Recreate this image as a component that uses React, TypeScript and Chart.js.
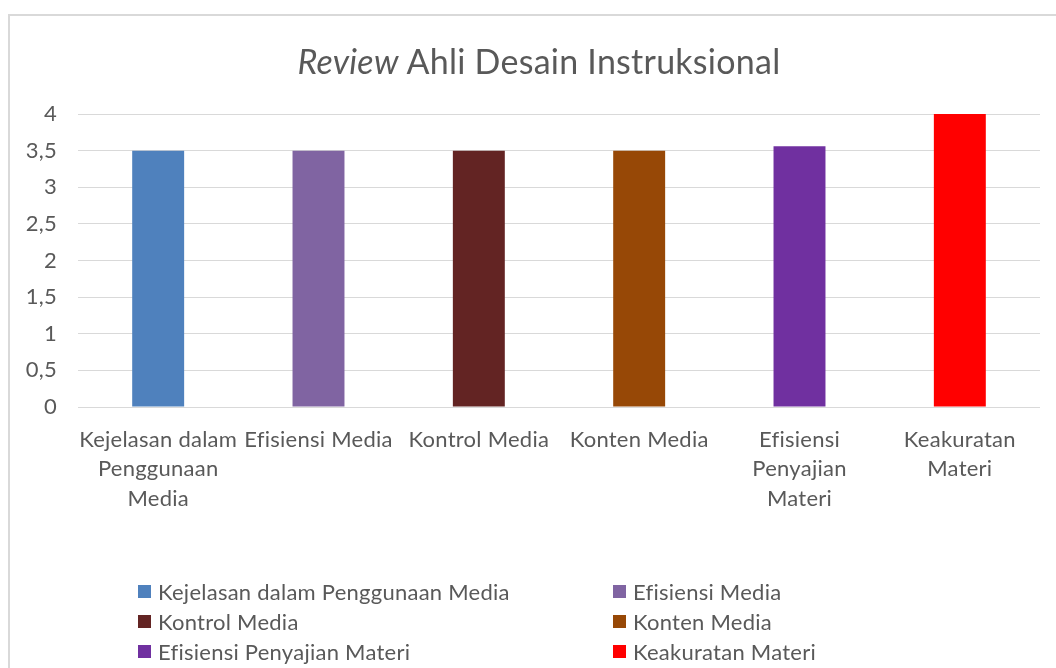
import React, { useEffect, useRef } from "react";
import { Chart, registerables } from "chart.js";

Chart.register(...registerables);

const categories: (string | string[])[] = [
  ["Kejelasan dalam", "Penggunaan", "Media"],
  "Efisiensi Media",
  "Kontrol Media",
  "Konten Media",
  ["Efisiensi", "Penyajian", "Materi"],
  ["Keakuratan", "Materi"],
];
const legendLabels = [
  "Kejelasan dalam Penggunaan Media",
  "Efisiensi Media",
  "Kontrol Media",
  "Konten Media",
  "Efisiensi Penyajian Materi",
  "Keakuratan Materi",
];
const values = [3.5, 3.5, 3.5, 3.5, 3.56, 4];
const barColors = ["#4F81BD", "#8064A2", "#632423", "#974806", "#7030A0", "#FF0000"];
const yTickLabels = ["0", "0,5", "1", "1,5", "2", "2,5", "3", "3,5", "4"];

const FONT = "Lato, 'Open Sans', sans-serif";
const TEXT = "#595959";

const spacingPlugin = {
  id: "spacing",
  beforeUpdate(chart: any) {
    chart.ctx.letterSpacing = "0.25px";
  },
  beforeDraw(chart: any) {
    chart.ctx.letterSpacing = "0.25px";
  },
};

export default function App() {
  const ref = useRef<HTMLCanvasElement | null>(null);

  useEffect(() => {
    if (!ref.current) return;
    const chart = new Chart(ref.current, {
      type: "bar",
      data: {
        labels: categories,
        datasets: [
          {
            label: "Review Ahli Desain Instruksional",
            data: values,
            backgroundColor: barColors,
            borderWidth: 0,
            categoryPercentage: 1,
            barPercentage: 0.324,
          },
        ],
      },
      plugins: [spacingPlugin],
      options: {
        animation: false,
        responsive: false,
        maintainAspectRatio: false,
        layout: { padding: { left: 0, right: 16, top: 114, bottom: 0 } },
        plugins: {
          legend: { display: false },
          title: { display: false },
          tooltip: { enabled: false },
        },
        scales: {
          x: {
            grid: { display: false },
            border: { display: false },
            ticks: {
              color: TEXT,
              font: { family: FONT, size: 22, lineHeight: 1.34 },
              padding: 10,
              maxRotation: 0,
              autoSkip: false,
            },
            afterFit: (scale: any) => {
              scale.height = 261;
            },
          },
          y: {
            min: 0,
            max: 4,
            grid: { color: "#d9d9d9", lineWidth: 1, drawTicks: false },
            border: { display: false },
            ticks: {
              stepSize: 0.5,
              color: TEXT,
              font: { family: FONT, size: 22 },
              padding: 21,
              callback: (_v: any, i: number) => yTickLabels[i],
            },
            afterFit: (scale: any) => {
              scale.width = 78;
            },
          },
        },
      },
    });
    return () => chart.destroy();
  }, []);

  return (
    <div
      style={{
        position: "fixed",
        left: 0,
        top: 0,
        width: 1056,
        height: 668,
        overflow: "hidden",
        background: "#fff",
        fontFamily: FONT,
        fontVariantLigatures: "none",
        letterSpacing: "0.25px",
      }}
    >
      <style>{`html,body{overflow:hidden}`}</style>
      <div
        style={{
          position: "absolute",
          left: 8,
          top: 14,
          width: 1100,
          height: 700,
          border: "2px solid #d9d9d9",
          boxSizing: "border-box",
        }}
      />
      <canvas
        ref={ref}
        width={1056}
        height={668}
        style={{ position: "absolute", left: 0, top: 0, width: 1056, height: 668 }}
      />
      <div
        style={{
          position: "absolute",
          left: 239,
          width: 600,
          top: 38,
          textAlign: "center",
          fontSize: 34,
          lineHeight: "46px",
          color: TEXT,
          whiteSpace: "nowrap",
        }}
      >
        <i>Review</i> Ahli Desain Instruksional
      </div>
      <div
        style={{
          position: "absolute",
          left: 138,
          top: 576,
          display: "grid",
          gridTemplateColumns: "475px 300px",
          gridAutoRows: "30px",
          fontSize: 22,
          color: TEXT,
        }}
      >
        {legendLabels.map((l, i) => (
          <div key={i} style={{ display: "flex", alignItems: "center", whiteSpace: "nowrap" }}>
            <span
              style={{
                width: 13,
                height: 13,
                background: barColors[i],
                marginRight: 7,
                flex: "none",
              }}
            />
            <span>{l}</span>
          </div>
        ))}
      </div>
    </div>
  );
}
